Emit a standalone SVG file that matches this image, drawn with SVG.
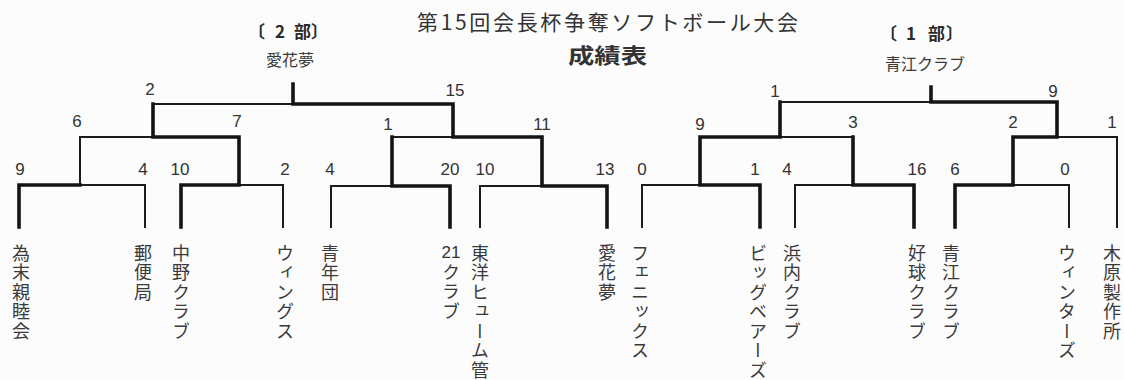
<svg xmlns="http://www.w3.org/2000/svg" width="1124" height="380" viewBox="0 0 1124 380">
<style>
.bg{fill:#fcfcfc}
.thin{fill:none;stroke:#1c1c1c;stroke-width:2;stroke-linecap:square;stroke-linejoin:miter}
.thick{fill:none;stroke:#141414;stroke-width:3.6;stroke-linecap:square;stroke-linejoin:miter}
.score{font-family:"Liberation Sans","Noto Sans",sans-serif;font-size:17px;fill:#333;text-anchor:middle}
.jp{font-family:"Noto Sans CJK JP",sans-serif;fill:#333}
.team{font-family:"Noto Sans CJK JP",sans-serif;font-size:18px;fill:#3a3a3a;writing-mode:vertical-rl;letter-spacing:1.5px}
.head{font-family:"Noto Sans CJK JP",sans-serif;font-size:17px;font-weight:bold;fill:#2a2a2a}
.champ{font-family:"Noto Sans CJK JP",sans-serif;font-size:16px;fill:#3a3a3a;text-anchor:middle}
</style>
<rect class="bg" x="0" y="0" width="1124" height="380"/>

<g id="title">
<text class="jp" x="417" y="30" font-size="21" textLength="381" lengthAdjust="spacing">第15回会長杯争奪ソフトボール大会</text>
<text class="jp" x="568" y="63" font-size="21" font-weight="bold" textLength="79" lengthAdjust="spacingAndGlyphs" fill="#222">成績表</text>
</g>

<g id="div2-head">
<text class="head" y="38"><tspan x="248">〔</tspan><tspan x="275">2</tspan><tspan x="294">部</tspan><tspan x="311">〕</tspan></text>
<text class="champ" x="290" y="66">愛花夢</text>
</g>
<g id="div1-head">
<text class="head" y="40"><tspan x="880">〔</tspan><tspan x="906">1</tspan><tspan x="928">部</tspan><tspan x="946">〕</tspan></text>
<text class="champ" x="925" y="70" font-size="17">青江クラブ</text>
</g>

<g id="connectors">
<!-- division 2 -->
<path class="thin" d="M80,185 H145 V227"/>
<path class="thin" d="M239,185 H283 V227"/>
<path class="thin" d="M80,185 V137 H153"/>
<path class="thin" d="M331,227 V186 H392"/>
<path class="thin" d="M480,227 V186 H542"/>
<path class="thin" d="M392,137 H453"/>
<path class="thin" d="M153,104 H293"/>
<path class="thick" d="M19,227 V185 H80"/>
<path class="thick" d="M181,227 V185 H239 V137 H153 V104"/>
<path class="thick" d="M450,227 V186 H392 V137"/>
<path class="thick" d="M607,227 V186 H542 V137 H453 V104 H293 V84"/>
<!-- division 1 -->
<path class="thin" d="M642,227 V185 H700"/>
<path class="thin" d="M795,227 V185 H853"/>
<path class="thin" d="M853,137 H780"/>
<path class="thin" d="M1069,227 V185 H1013"/>
<path class="thin" d="M1117,227 V137 H1057"/>
<path class="thin" d="M780,102 H931"/>
<path class="thick" d="M760,227 V185 H700 V137 H780 V102"/>
<path class="thick" d="M914,227 V185 H853 V137"/>
<path class="thick" d="M955,227 V185 H1013 V137 H1057 V102 H931 V87"/>
</g>

<g id="scores">
<text class="score" x="150" y="95">2</text>
<text class="score" x="455" y="96">15</text>
<text class="score" x="77" y="127">6</text>
<text class="score" x="237" y="127">7</text>
<text class="score" x="388" y="130">1</text>
<text class="score" x="542" y="130">11</text>
<text class="score" x="20" y="175">9</text>
<text class="score" x="143" y="175">4</text>
<text class="score" x="180" y="175">10</text>
<text class="score" x="285" y="175">2</text>
<text class="score" x="330" y="175">4</text>
<text class="score" x="450" y="175">20</text>
<text class="score" x="485" y="175">10</text>
<text class="score" x="605" y="175">13</text>
<text class="score" x="642" y="175">0</text>
<text class="score" x="775" y="97">1</text>
<text class="score" x="1053" y="97">9</text>
<text class="score" x="700" y="130">9</text>
<text class="score" x="853" y="128">3</text>
<text class="score" x="1013" y="128">2</text>
<text class="score" x="1112" y="128">1</text>
<text class="score" x="755" y="175">1</text>
<text class="score" x="787" y="175">4</text>
<text class="score" x="917" y="175">16</text>
<text class="score" x="955" y="175">6</text>
<text class="score" x="1065" y="175">0</text>
</g>

<g id="team-tamesue"><text class="team" x="21" y="244">為末親睦会</text></g>
<g id="team-yubinkyoku"><text class="team" x="143" y="244">郵便局</text></g>
<g id="team-nakano"><text class="team" x="181" y="244">中野クラブ</text></g>
<g id="team-wings"><text class="team" x="285" y="244">ウィングス</text></g>
<g id="team-seinendan"><text class="team" x="330" y="244">青年団</text></g>
<g id="team-21club"><text class="score" x="451" y="258" font-size="16">21</text><text class="team" x="451" y="263">クラブ</text></g>
<g id="team-toyo"><text class="team" x="480" y="244">東洋ヒューム管</text></g>
<g id="team-aikamu"><text class="team" x="607" y="244">愛花夢</text></g>
<g id="team-phoenix"><text class="team" x="640" y="244">フェニックス</text></g>
<g id="team-bigbears"><text class="team" x="758" y="244">ビッグベアーズ</text></g>
<g id="team-hamauchi"><text class="team" x="792" y="244">浜内クラブ</text></g>
<g id="team-kokyu"><text class="team" x="917" y="244">好球クラブ</text></g>
<g id="team-aoe"><text class="team" x="951" y="244">青江クラブ</text></g>
<g id="team-winters"><text class="team" x="1067" y="244">ウィンターズ</text></g>
<g id="team-kihara"><text class="team" x="1112" y="244">木原製作所</text></g>
</svg>
